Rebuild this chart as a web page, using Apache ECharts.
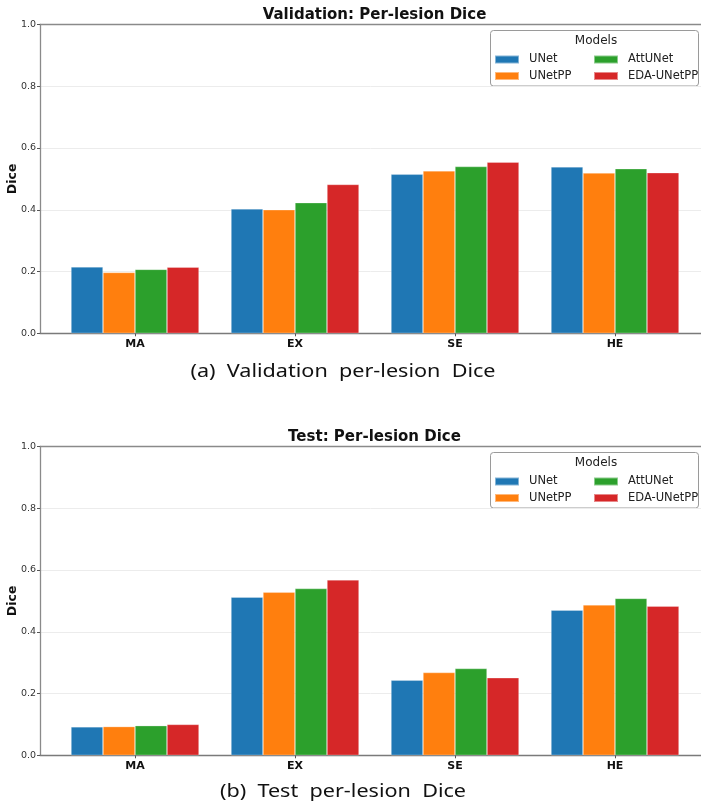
<!DOCTYPE html>
<html>
<head>
<meta charset="utf-8">
<script src="https://cdn.jsdelivr.net/npm/echarts@6/dist/echarts.min.js"></script>
<style>
html,body{margin:0;padding:0;background:#fff;}
#chart{width:701px;height:805px;}
</style>
</head>
<body>
<div id="chart"></div>
<script>
const categories = ['MA', 'EX', 'SE', 'HE'];
const models = ['UNet', 'UNetPP', 'AttUNet', 'EDA-UNetPP'];
const colors = ['#1f77b4', '#ff7f0e', '#2ca02c', '#d62728'];
const yTicks = [0.0, 0.2, 0.4, 0.6, 0.8, 1.0];

// Validation per-lesion Dice
const valUNet    = [0.215, 0.403, 0.515, 0.539];
const valUNetPP  = [0.197, 0.400, 0.526, 0.519];
const valAttUNet = [0.207, 0.423, 0.540, 0.533];
const valEDA     = [0.214, 0.482, 0.554, 0.520];

// Test per-lesion Dice
const testUNet    = [0.092, 0.512, 0.243, 0.470];
const testUNetPP  = [0.093, 0.528, 0.268, 0.487];
const testAttUNet = [0.096, 0.540, 0.281, 0.508];
const testEDA     = [0.100, 0.568, 0.251, 0.483];

const valSets = [valUNet, valUNetPP, valAttUNet, valEDA];
const testSets = [testUNet, testUNetPP, testAttUNet, testEDA];

const FONT = 'DejaVu Sans';
const panels = [
  {top: 24.5, title: 'Validation: Per-lesion Dice', caption: '(a)  Validation  per-lesion  Dice', captionY: 372, sets: valSets},
  {top: 446.5, title: 'Test: Per-lesion Dice', caption: '(b)  Test  per-lesion  Dice', captionY: 792, sets: testSets}
];
const H = 308.8;

const grid = [], xAxis = [], yAxis = [], series = [], title = [], legend = [], graphic = [];

panels.forEach((p, pi) => {
  const gFrame = pi * 2, gBars = pi * 2 + 1;
  grid.push({left: 40, right: 0, top: p.top, height: H, containLabel: false, outerBoundsMode: 'none'});
  grid.push({left: 55, width: 640, top: p.top, height: H, containLabel: false, outerBoundsMode: 'none'});
  const spine = {show: true, lineStyle: {color: '#8a8a8a', width: 1.3}};
  xAxis.push({gridIndex: gFrame, type: 'value', min: 0, max: 1, position: 'bottom',
    axisLine: {show: true, onZero: false, lineStyle: {color: '#7a7a7a', width: 1.3}},
    axisTick: {show: false}, axisLabel: {show: false}, splitLine: {show: false}});
  xAxis.push({gridIndex: gFrame, type: 'value', min: 0, max: 1, position: 'top',
    axisLine: Object.assign({onZero: false}, spine),
    axisTick: {show: false}, axisLabel: {show: false}, splitLine: {show: false}});
  xAxis.push({gridIndex: gBars, type: 'category', data: categories,
    axisLine: {show: false},
    axisTick: {show: true, alignWithLabel: true, length: 3, lineStyle: {color: '#555'}},
    axisLabel: {margin: 5, fontFamily: FONT, fontWeight: 'bold', fontSize: 11, color: '#111'},
    splitLine: {show: false}});
  yAxis.push({gridIndex: gFrame, type: 'value', min: 0, max: 1, interval: 0.2,
    name: 'Dice', nameLocation: 'middle', nameGap: 21, nameMoveOverlap: false,
    nameTextStyle: {fontFamily: FONT, fontWeight: 'bold', fontSize: 12.5, color: '#111'},
    axisLine: Object.assign({onZero: false}, spine),
    axisTick: {show: true, length: 3, lineStyle: {color: '#555'}},
    axisLabel: {margin: 4, fontFamily: FONT, fontSize: 9.5, color: '#333',
      formatter: v => v.toFixed(1)},
    splitLine: {show: true, lineStyle: {color: '#ececec', width: 1}}});
  yAxis.push({gridIndex: gBars, type: 'value', min: 0, max: 1, show: false, splitLine: {show: false}});

  models.forEach((m, mi) => {
    series.push({
      type: 'bar', name: m, xAxisIndex: pi * 3 + 2, yAxisIndex: pi * 2 + 1,
      data: p.sets[mi], barWidth: 32, barGap: '0%',
      itemStyle: {color: colors[mi], borderColor: 'rgba(255,255,255,0.45)', borderWidth: 0.6},
      emphasis: {disabled: true}
    });
  });

  title.push({text: p.title, left: 374.5, textAlign: 'center', top: p.top - 17, padding: 0,
    textStyle: {fontFamily: FONT, fontWeight: 'bold', fontSize: 15, color: '#111'}});

  graphic.push({type: 'text', x: 343, y: p.captionY, scaleX: 1.2,
    style: {text: p.caption, font: '18px "Noto Sans"', fill: '#111', align: 'center', verticalAlign: 'middle'}});

  const legCommon = {orient: 'vertical', itemWidth: 24, itemHeight: 8, itemGap: 4.5, padding: 0,
    icon: 'rect', selectedMode: false,
    textStyle: {fontFamily: FONT, fontSize: 11.5, color: '#222', padding: [0, 0, 0, 5]}};
  legend.push(Object.assign({}, legCommon, {left: 494, top: p.top + 29, data: ['UNet', 'UNetPP']}));
  legend.push(Object.assign({}, legCommon, {left: 593, top: p.top + 29, data: ['AttUNet', 'EDA-UNetPP']}));

  graphic.push({type: 'rect', z: -1, shape: {x: 490.5, y: p.top + 6, width: 208, height: 55.5, r: 3},
    style: {fill: 'rgba(255,255,255,0.85)', stroke: '#9a9a9a', lineWidth: 1}});
  graphic.push({type: 'text', z: 10, x: 596, y: p.top + 16.5,
    style: {text: 'Models', font: '12px "DejaVu Sans"', fill: '#222', align: 'center', verticalAlign: 'middle'}});
});

const chart = echarts.init(document.getElementById('chart'), null, {renderer: 'canvas'});
chart.setOption({
  animation: false,
  backgroundColor: '#fff',
  grid, xAxis, yAxis, series, title, legend, graphic
});
</script>
</body>
</html>
